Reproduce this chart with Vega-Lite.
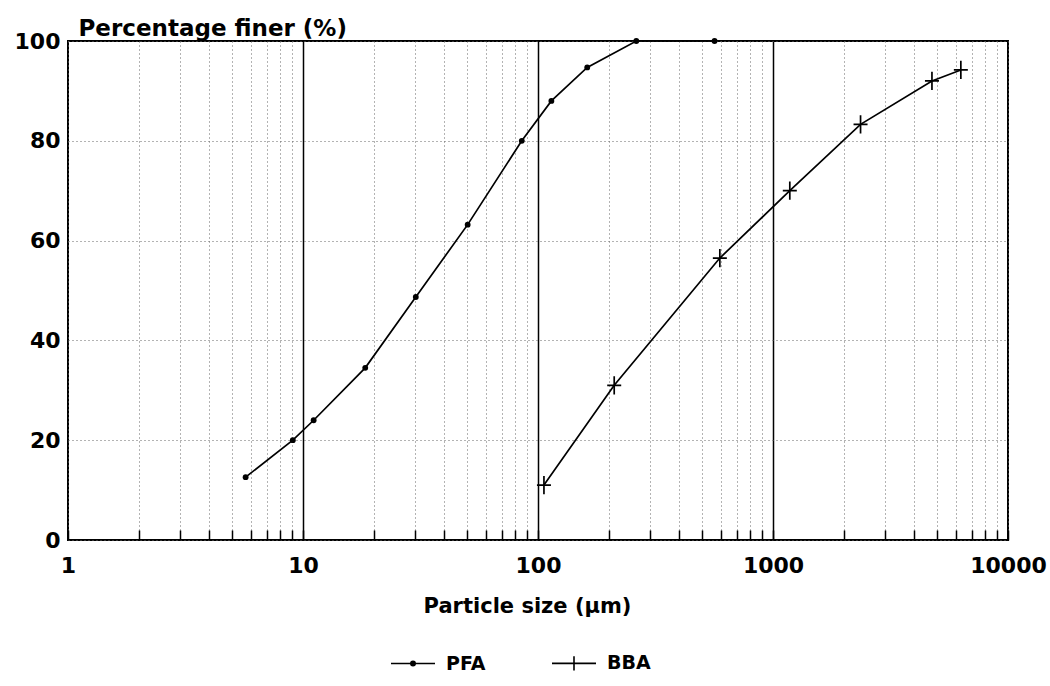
{
  "$schema": "https://vega.github.io/schema/vega-lite/v6.json",
  "width": 940,
  "height": 499,
  "autosize": {"type": "none"},
  "padding": {"left": 68, "top": 41, "right": 42, "bottom": 146},
  "background": "white",
  "config": {"view": {"stroke": "black", "strokeWidth": 2}, "font": "DejaVu Sans"},
  "data": {
    "values": [
      {"series": "PFA", "size": 5.7, "finer": 12.6},
      {"series": "PFA", "size": 9.05, "finer": 20},
      {"series": "PFA", "size": 11.1, "finer": 24},
      {"series": "PFA", "size": 18.4, "finer": 34.5},
      {"series": "PFA", "size": 30.2, "finer": 48.7},
      {"series": "PFA", "size": 50.2, "finer": 63.2},
      {"series": "PFA", "size": 85.3, "finer": 80},
      {"series": "PFA", "size": 114, "finer": 88},
      {"series": "PFA", "size": 162, "finer": 94.7},
      {"series": "PFA", "size": 262, "finer": 100},
      {"series": "PFA", "size": 564, "finer": 100},
      {"series": "BBA", "size": 106, "finer": 11},
      {"series": "BBA", "size": 211, "finer": 31},
      {"series": "BBA", "size": 594, "finer": 56.5},
      {"series": "BBA", "size": 1179, "finer": 70},
      {"series": "BBA", "size": 2358, "finer": 83.3},
      {"series": "BBA", "size": 4747, "finer": 92},
      {"series": "BBA", "size": 6300, "finer": 94.2}
    ]
  },
  "layer": [
    {
      "mark": {"type": "line", "color": "black", "strokeWidth": 1.7},
      "encoding": {
        "x": {
          "field": "size",
          "type": "quantitative",
          "scale": {"type": "log", "domain": [1, 10000], "nice": false},
          "axis": {
            "values": [1, 2, 3, 4, 5, 6, 7, 8, 9, 10, 20, 30, 40, 50, 60, 70, 80, 90, 100, 200, 300, 400, 500, 600, 700, 800, 900, 1000, 2000, 3000, 4000, 5000, 6000, 7000, 8000, 9000, 10000],
            "title": "Particle size (µm)",
            "titleFont": "DejaVu Sans",
            "titleFontSize": 21,
            "titleFontWeight": "bold",
            "titleColor": "black",
            "titleX": 459,
            "titleY": 66,
            "titleAlign": "center",
            "titleBaseline": "middle",
            "labelExpr": "indexof([1,10,100,1000,10000], datum.value) >= 0 ? format(datum.value, 'd') : ''",
            "labelFont": "DejaVu Sans",
            "labelFontSize": 22,
            "labelFontWeight": "bold",
            "labelColor": "black",
            "labelPadding": 25,
            "labelOverlap": false,
            "labelFlush": false,
            "labelBound": false,
            "domain": false,
            "tickSize": -10,
            "tickColor": "black",
            "tickWidth": 1.5,
            "grid": true,
            "gridColor": {"condition": {"test": "indexof([10,100,1000], datum.value) >= 0", "value": "black"}, "value": "#666666"},
            "gridDash": {"condition": {"test": "indexof([10,100,1000], datum.value) >= 0", "value": []}, "value": [1, 3]},
            "gridWidth": {"condition": {"test": "indexof([10,100,1000], datum.value) >= 0", "value": 1.5}, "value": 1}
          }
        },
        "y": {
          "field": "finer",
          "type": "quantitative",
          "scale": {"domain": [0, 100], "nice": false},
          "axis": {
            "values": [0, 20, 40, 60, 80, 100],
            "title": "Percentage finer (%)",
            "titleAngle": 0,
            "titleAlign": "left",
            "titleBaseline": "alphabetic",
            "titleX": 10,
            "titleY": -6,
            "titleFont": "DejaVu Sans",
            "titleFontSize": 23,
            "titleFontWeight": "bold",
            "titleColor": "black",
            "labelFont": "DejaVu Sans",
            "labelFontSize": 22,
            "labelFontWeight": "bold",
            "labelColor": "black",
            "labelPadding": 8,
            "ticks": false,
            "domain": false,
            "grid": true,
            "gridDash": [1, 3],
            "gridColor": "#666666",
            "gridWidth": 1
          }
        },
        "detail": {"field": "series"},
        "order": {"field": "size"}
      }
    },
    {
      "transform": [{"filter": "datum.series == 'PFA'"}],
      "mark": {"type": "circle", "color": "black", "size": 34, "opacity": 1},
      "encoding": {
        "x": {"field": "size", "type": "quantitative"},
        "y": {"field": "finer", "type": "quantitative"}
      }
    },
    {
      "transform": [{"filter": "datum.series == 'BBA'"}],
      "mark": {"type": "point", "shape": "M-1,0H1M0,-1.3V1.3", "size": 196, "filled": false, "color": "black", "strokeWidth": 1.7, "opacity": 1},
      "encoding": {
        "x": {"field": "size", "type": "quantitative"},
        "y": {"field": "finer", "type": "quantitative"}
      }
    },
    {
      "mark": {"type": "point", "opacity": 0, "filled": false, "color": "black"},
      "encoding": {
        "x": {"field": "size", "type": "quantitative"},
        "y": {"field": "finer", "type": "quantitative"},
        "shape": {
          "field": "series",
          "type": "nominal",
          "scale": {
            "domain": ["PFA", "BBA"],
            "range": ["M-1,0H1M-0.1,0A0.1,0.1,0,1,1,0.1,0A0.1,0.1,0,1,1,-0.1,0M-0.04,0A0.04,0.04,0,1,1,0.04,0A0.04,0.04,0,1,1,-0.04,0", "M-1,0H1M0,-0.32V0.32"]
          },
          "legend": {
            "orient": "none",
            "legendX": 322,
            "legendY": 599,
            "direction": "horizontal",
            "title": null,
            "symbolSize": 1936,
            "symbolStrokeColor": "black",
            "symbolStrokeWidth": 1.6,
            "symbolOpacity": 1,
            "labelFont": "DejaVu Sans",
            "labelFontSize": 19,
            "labelFontWeight": "bold",
            "labelColor": "black",
            "labelOffset": 10,
            "columnPadding": 62
          }
        }
      }
    }
  ]
}
